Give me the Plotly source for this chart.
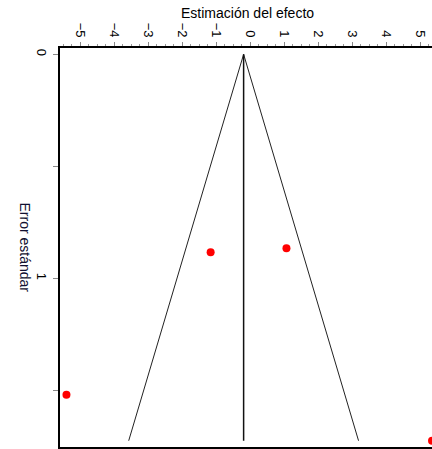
import plotly.graph_objects as go

# Study data (effect estimate, standard error)
estimates = [-1.17, 1.06, -5.41, 5.34]
std_errors = [0.884, 0.866, 1.52, 1.725]

# Pooled estimate and funnel limits
pooled = -0.2
funnel_se = [0.0, 1.725]
funnel_left = [-0.2, -3.58]
funnel_right = [-0.2, 3.18]
center_x = [-0.2, -0.2]

x_ticks = [-5, -4, -3, -2, -1, 0, 1, 2, 3, 4, 5]
y_ticks = [0, 0.5, 1, 1.5]
y_ticktext = ["0", "", "1", ""]

fig = go.Figure()
fig.add_trace(go.Scatter(x=funnel_left, y=funnel_se, mode="lines",
                         line=dict(color="#222222", width=1), showlegend=False))
fig.add_trace(go.Scatter(x=funnel_right, y=funnel_se, mode="lines",
                         line=dict(color="#222222", width=1), showlegend=False))
fig.add_trace(go.Scatter(x=center_x, y=funnel_se, mode="lines",
                         line=dict(color="#111111", width=1.5), showlegend=False))
fig.add_trace(go.Scatter(x=estimates, y=std_errors, mode="markers",
                         marker=dict(color="#ff0000", size=8), showlegend=False))

fig.update_layout(
    width=432, height=449,
    margin=dict(l=60, r=0, t=48, b=2),
    paper_bgcolor="white", plot_bgcolor="white",
    font=dict(family="Liberation Sans, Arial, sans-serif", color="black", size=12),
    xaxis=dict(
        side="top", range=[-5.60, 5.34], tickvals=x_ticks, automargin=False,
        tickangle=90, ticks="outside", ticklen=4, tickcolor="#888888", tickwidth=1,
        showgrid=False, zeroline=False,
        showline=True, linecolor="black", linewidth=2, mirror=True,
        minor=dict(dtick=0.25, tick0=0, ticks="outside", ticklen=2, tickcolor="#999999", showgrid=False),
        tickfont=dict(size=13),
    ),
    yaxis=dict(
        range=[1.753, -0.028], tickvals=y_ticks, ticktext=y_ticktext, automargin=False,
        tickangle=90, ticks="outside", ticklen=5, tickcolor="#888888", tickwidth=1,
        showgrid=False, zeroline=False,
        showline=True, linecolor="black", linewidth=2, mirror=False,
        tickfont=dict(size=13),
    ),
    annotations=[
        dict(text="Estimación del efecto", xref="paper", yref="paper", x=0.505, y=1,
             xanchor="center", yanchor="bottom", yshift=25, showarrow=False,
             font=dict(size=14, color="black")),
        dict(text="Error estándar", xref="paper", yref="paper", x=0, y=0.50,
             xanchor="center", yanchor="middle", xshift=-35, textangle=90, showarrow=False,
             font=dict(size=14, color="#101030")),
    ],
)

fig.write_html("out.html", config={"displayModeBar": False},
               post_script="document.body.style.margin='0';document.body.style.overflow='hidden';")
